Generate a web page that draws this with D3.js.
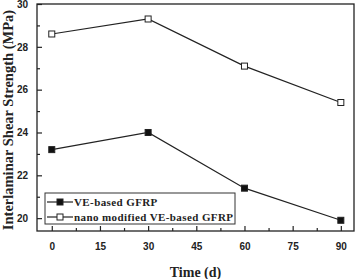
<!DOCTYPE html>
<html>
<head>
<meta charset="utf-8">
<script src="https://cdn.jsdelivr.net/npm/d3@7"></script>
<style>
  body { margin: 0; background: #fff; }
  svg { display: block; font-family: "Liberation Serif", "Times New Roman", serif; }
</style>
</head>
<body>
<div class="chart"></div>
<script>
// data
var days = [0, 30, 60, 90];
var veBased = [23.2, 24.0, 21.4, 19.9];
var nanoModified = [28.6, 29.3, 27.1, 25.4];
var seriesNames = ["VE-based GFRP", "nano modified VE-based GFRP"];
var xTicks = [0, 15, 30, 45, 60, 75, 90];
var yTicks = [20, 22, 24, 26, 28, 30];

var svgWidth = 357;
var svgHeight = 279;

var margin = { top: 4, right: 3, bottom: 48, left: 37 };
var width = svgWidth - margin.left - margin.right;
var height = svgHeight - margin.top - margin.bottom;

var svg = d3.select(".chart")
  .append("svg")
  .attr("width", svgWidth)
  .attr("height", svgHeight);

var chartGroup = svg.append("g")
  .attr("transform", `translate(${margin.left}, ${margin.top})`);

var xScale = d3.scaleLinear()
  .domain([-4.6, 94.1])
  .range([0, width]);

var yScale = d3.scaleLinear()
  .domain([19.4, 30])
  .range([height, 0]);

// frame
chartGroup.append("rect")
  .attr("width", width)
  .attr("height", height)
  .attr("fill", "none")
  .attr("stroke", "#222")
  .attr("stroke-width", 1.3);

// axes, ticks pointing inward
var bottomAxis = d3.axisBottom(xScale).tickValues(xTicks).tickSize(-5).tickPadding(12);
var leftAxis = d3.axisLeft(yScale).tickValues(yTicks).tickSize(-5).tickPadding(9);

chartGroup.append("g")
  .attr("transform", `translate(0, ${height})`)
  .call(bottomAxis);
chartGroup.append("g")
  .call(leftAxis);

// minor ticks
chartGroup.append("g")
  .attr("transform", `translate(0, ${height})`)
  .call(d3.axisBottom(xScale).tickValues(d3.range(7.5, 91, 15)).tickSize(-3).tickFormat(""));
chartGroup.append("g")
  .call(d3.axisLeft(yScale).tickValues([21, 23, 25, 27, 29]).tickSize(-3).tickFormat(""));

chartGroup.selectAll(".domain").remove();
chartGroup.selectAll(".tick line").attr("stroke", "#222").attr("stroke-width", 1.2);
chartGroup.selectAll(".tick text")
  .style("font-size", "10px")
  .style("font-weight", "bold")
  .attr("fill", "#222");

// lines
var line = d3.line()
  .x((d, i) => xScale(days[i]))
  .y(d => yScale(d));

var series = [
  { name: seriesNames[0], values: veBased, fill: "#111" },
  { name: seriesNames[1], values: nanoModified, fill: "#fff" }
];

series.forEach(s => {
  chartGroup.append("path")
    .datum(s.values)
    .attr("d", line)
    .attr("fill", "none")
    .attr("stroke", "#222")
    .attr("stroke-width", 1.2);

  chartGroup.selectAll(null)
    .data(s.values)
    .enter()
    .append("rect")
    .attr("x", (d, i) => xScale(days[i]) - 3)
    .attr("y", d => yScale(d) - 3)
    .attr("width", 6)
    .attr("height", 6)
    .attr("fill", s.fill)
    .attr("stroke", "#222")
    .attr("stroke-width", 1);
});

// legend
var legend = chartGroup.append("g")
  .attr("transform", "translate(8, 189)");

legend.append("rect")
  .attr("width", 190)
  .attr("height", 31)
  .attr("fill", "#fff")
  .attr("stroke", "#333")
  .attr("stroke-width", 1);

series.forEach((s, i) => {
  var yy = 9 + i * 15;
  legend.append("line")
    .attr("x1", 2).attr("x2", 28)
    .attr("y1", yy).attr("y2", yy)
    .attr("stroke", "#222")
    .attr("stroke-width", 1.2);
  legend.append("rect")
    .attr("x", 12).attr("y", yy - 3)
    .attr("width", 6).attr("height", 6)
    .attr("fill", s.fill)
    .attr("stroke", "#222");
  legend.append("text")
    .attr("x", 29)
    .attr("y", yy + 4)
    .style("font-size", "11px")
    .style("font-weight", "bold")
    .style("letter-spacing", "0.4px")
    .attr("fill", "#222")
    .text(s.name);
});

// axis labels
svg.append("text")
  .attr("transform", `translate(${margin.left + width / 2}, 277)`)
  .style("text-anchor", "middle")
  .style("font-size", "14px")
  .style("font-weight", "bold")
  .attr("fill", "#222")
  .text("Time (d)");

svg.append("text")
  .attr("transform", "translate(13, 120) rotate(-90)")
  .style("text-anchor", "middle")
  .style("font-size", "14.5px")
  .style("font-weight", "bold")
  .attr("fill", "#222")
  .text("Interlaminar Shear Strength (MPa)");
</script>
</body>
</html>
